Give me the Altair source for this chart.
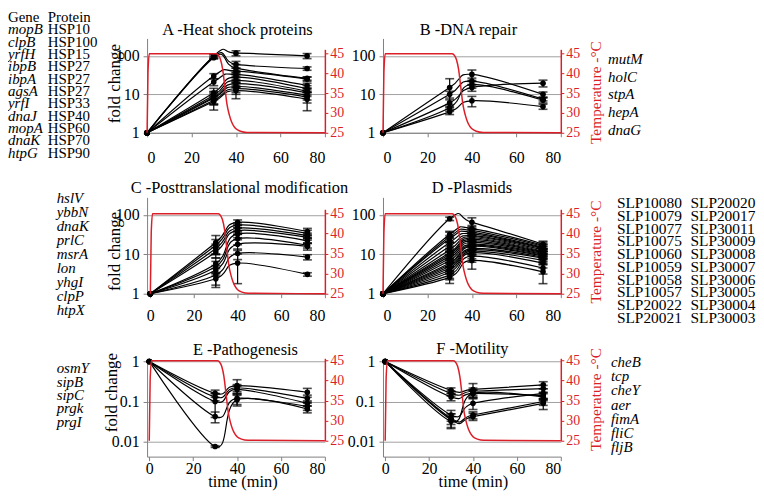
import altair as alt
import pandas as pd

# ---------------- data ----------------
times = [0, 30, 40, 72]
x_ticks = [0, 20, 40, 60, 80]
temp_ticks = [25, 30, 35, 40, 45]

temp_time = [0, 0.4, 1.0, 31, 32, 33, 34, 35, 36, 37, 38, 39, 40, 42, 45, 80]
temp_deg = [25, 40, 44.9, 44.9, 44.6, 43.5, 41, 36.5, 32, 29.5, 27.8, 26.7, 26, 25.4, 25.1, 25]

titles = ["A -Heat shock proteins", "B -DNA repair", "C -Posttranslational modification",
          "D -Plasmids", "E -Pathogenesis", "F -Motility"]

header_a = ["Gene", "Protein"]
genes_a = ["mopB", "clpB", "yrfH", "ibpB", "ibpA", "agsA", "yrfI", "dnaJ", "mopA", "dnaK", "htpG"]
proteins_a = ["HSP10", "HSP100", "HSP15", "HSP27", "HSP27", "HSP27", "HSP33", "HSP40", "HSP60", "HSP70", "HSP90"]
genes_b = ["mutM", "holC", "stpA", "hepA", "dnaG"]
genes_c = ["hslV", "ybbN", "dnaK", "prlC", "msrA", "lon", "yhgI", "clpP", "htpX"]
plasmids_d1 = ["SLP10080", "SLP10079", "SLP10077", "SLP10075", "SLP10060",
               "SLP10059", "SLP10058", "SLP10057", "SLP20022", "SLP20021"]
plasmids_d2 = ["SLP20020", "SLP20017", "SLP30011", "SLP30009", "SLP30008",
               "SLP30007", "SLP30006", "SLP30005", "SLP30004", "SLP30003"]
genes_e = ["osmY", "sipB", "sipC", "prgk", "prgI"]
genes_f = ["cheB", "tcp", "cheY", "aer", "fimA", "fliC", "fljB"]

# fold change per series at times 0, 30, 40, 72
a_vals = [[1, 100, 118, 100], [1, 97, 60, 47], [1, 90, 48, 26], [1, 30, 40, 25],
          [1, 21, 33, 17], [1, 11, 28, 14], [1, 9.5, 23, 12], [1, 8.5, 19, 11],
          [1, 8, 16, 9.5], [1, 7, 14, 8.5], [1, 6.5, 12.5, 7.5]]
a_errs = [[0, .12, .15, .15], [0, .1, .2, .1], [0, .08, .25, .1], [0, .15, .2, .12],
          [0, .2, .25, .15], [0, .3, .3, .2], [0, .25, .25, .2], [0, .35, .2, .2],
          [0, .3, .3, .25], [0, .25, .45, .3], [0, .4, .2, .5]]

b_vals = [[1, 15, 33, 10], [1, 10, 22, 7.5], [1, 6, 15, 19.5], [1, 4.5, 18, 7], [1, 3.5, 6.8, 4.8]]
b_errs = [[0, .7, .3, .15], [0, .2, .2, .1], [0, .2, .2, .2], [0, .2, .2, .15], [0, .15, .3, .15]]

c_vals = [[1, 20, 65, 38], [1, 17, 55, 34], [1, 14, 46, 30], [1, 11.5, 40, 27],
          [1, 5.8, 33, 22], [1, 4.9, 25, 17], [1, 4, 18, 16], [1, 3, 10.5, 8.5], [1, 2.4, 6, 3.1]]
c_errs = [[0, .5, .15, .2], [0, .4, .15, .2], [0, .3, .2, .15], [0, .3, .2, .15],
          [0, .4, .2, .15], [0, .35, .3, .15], [0, .3, .3, .2], [0, .45, .3, .15], [0, .4, .7, .1]]

d_vals = [[1, 80, 65, 18], [1, 32, 45, 17], [1, 28, 40, 16], [1, 25, 36, 15],
          [1, 20, 33, 14.5], [1, 16, 30, 14], [1, 13, 28, 13], [1, 11, 26, 12],
          [1, 10, 24, 11.5], [1, 9, 22, 11], [1, 8, 20, 10.5], [1, 7, 18, 10],
          [1, 6, 17, 9.5], [1, 5.5, 16, 9], [1, 5, 14, 8.5], [1, 4.5, 13, 8],
          [1, 4, 12, 7], [1, 3.5, 11, 6], [1, 3, 9, 4.5], [1, 2.6, 7, 3.6]]
d_errs = [[0, .1, .3, .2], [0, .2, .2, .2], [0, .3, .25, .15], [0, .2, .2, .2],
          [0, .35, .3, .2], [0, .3, .2, .15], [0, .25, .25, .2], [0, .3, .2, .15],
          [0, .2, .3, .2], [0, .3, .25, .2], [0, .25, .2, .15], [0, .3, .3, .2],
          [0, .2, .25, .2], [0, .3, .2, .15], [0, .25, .3, .2], [0, .3, .2, .2],
          [0, .2, .25, .2], [0, .3, .3, .25], [0, .25, .3, .3], [0, .3, .4, .5]]

e_vals = [[1, 0.16, 0.25, 0.17], [1, 0.13, 0.22, 0.12], [1, 0.10, 0.2, 0.09],
          [1, 0.042, 0.12, 0.075], [1, 0.0075, 0.11, 0.065]]
e_errs = [[0, .2, .4, .25], [0, .2, .2, .2], [0, .6, .2, .15], [0, .3, .3, .2], [0, .05, .3, .2]]

f_vals = [[1, 0.19, 0.2, 0.26], [1, 0.16, 0.18, 0.21], [1, 0.13, 0.16, 0.14],
          [1, 0.046, 0.09, 0.16], [1, 0.038, 0.046, 0.1], [1, 0.035, 0.042, 0.09],
          [1, 0.032, 0.16, 0.13]]
f_errs = [[0, .15, .4, .2], [0, .15, .2, .2], [0, .2, .2, .2], [0, .3, .3, .3],
          [0, .3, .2, .2], [0, .4, .2, .3], [0, .3, .2, .2]]

# ---------------- style ----------------
RED = "#dc1e28"
GRID = "#a0a0a0"
AXG = "#808080"
FONT = "Liberation Serif"
W = 179


def series_df(vals, errs):
    rows = []
    for s, (vs, es) in enumerate(zip(vals, errs)):
        for t, v, e in zip(times, vs, es):
            rows.append(dict(s=s, t=t, v=v, e=e, lo=v * (1 - e), hi=v * (1 + e)))
    return pd.DataFrame(rows)


def text_layer(names, x0, y0, dy, italic, size=15):
    df = pd.DataFrame({"name": names,
                       "px": [x0] * len(names),
                       "py": [y0 + dy * i for i in range(len(names))]})
    return alt.Chart(df).mark_text(
        align="left", baseline="middle", font=FONT, fontSize=size,
        fontStyle="italic" if italic else "normal", color="black"
    ).encode(x=alt.X("px:Q", scale=None), y=alt.Y("py:Q", scale=None), text="name:N")


def panel(vals, errs, title, cfg, lists):
    df = series_df(vals, errs)
    H = cfg["h"]
    xsc = alt.Scale(domain=cfg["xdom"], nice=False, zero=False)
    xkw = dict(values=x_ticks, grid=False, domainColor=AXG, tickColor=AXG, tickSize=4,
               labelPadding=cfg["lp"], labelFontSize=16, labelFont=FONT, labelColor="black")
    if cfg.get("xtitle"):
        xkw.update(title="time (min)", titleX=cfg["xtx"], titleY=30, titleAlign="center",
                   titleBaseline="alphabetic", titleFontSize=16.5, titleFont=FONT,
                   titleFontWeight="normal", titleColor="black")
    else:
        xkw.update(title=None)
    xax = alt.Axis(**xkw)

    ysc = alt.Scale(type="log", domain=cfg["ydom"], nice=False)
    ykw = dict(orient="left", values=cfg["yticks"], format="~g", grid=True, gridColor=GRID,
               domainColor=AXG, tickColor=AXG, tickSize=4, labelPadding=4, labelFontSize=16,
               labelFont=FONT, labelColor="black")
    if cfg.get("ytitle"):
        ykw.update(title="fold change", titleX=cfg["ytx"], titleY=cfg["yty"], titleAngle=270,
                   titleAlign="center", titleBaseline="middle", titleFontSize=17,
                   titleFont=FONT, titleFontWeight="normal", titleColor="black")
    else:
        ykw.update(title=None)
    yax = alt.Axis(**ykw)

    x = alt.X("t:Q", scale=xsc, axis=xax)
    base = alt.Chart(df)
    lines = base.mark_line(interpolate="cardinal", color="black", strokeWidth=1.2).encode(
        x=x, y=alt.Y("v:Q", scale=ysc, axis=yax), detail="s:N")
    errs_l = base.transform_filter("datum.e > 0")
    rules = errs_l.mark_rule(color="black", strokeWidth=1.2).encode(
        x=x, y=alt.Y("lo:Q", scale=ysc, axis=yax), y2="hi:Q")
    caps_lo = errs_l.mark_tick(orient="horizontal", size=9, thickness=1.6, color="black").encode(
        x=x, y=alt.Y("lo:Q", scale=ysc, axis=yax))
    caps_hi = errs_l.mark_tick(orient="horizontal", size=9, thickness=1.6, color="black").encode(
        x=x, y=alt.Y("hi:Q", scale=ysc, axis=yax))
    pts = base.mark_circle(size=32, color="black", opacity=1).encode(
        x=x, y=alt.Y("v:Q", scale=ysc, axis=yax))
    inner = alt.layer(lines, rules, caps_lo, caps_hi, pts)

    tkw = dict(orient="right", values=temp_ticks, grid=False, domainColor=RED, domainWidth=1.5,
               tickColor=RED, tickSize=3, labelPadding=2, labelFontSize=14, labelFont=FONT,
               labelColor=RED)
    if cfg.get("ttitle"):
        tkw.update(title="Temperature -°C", titleX=35, titleY=cfg["tty"], titleAngle=270,
                   titleAlign="center", titleBaseline="middle", titleFontSize=15.5,
                   titleFont=FONT, titleFontWeight="normal", titleColor=RED)
    else:
        tkw.update(title=None)
    temp_df = pd.DataFrame({"t": temp_time, "c": temp_deg})
    temp = alt.Chart(temp_df).mark_line(color=RED, strokeWidth=1.5, interpolate="monotone").encode(
        x=alt.X("t:Q", scale=xsc, axis=None),
        y=alt.Y("c:Q", scale=alt.Scale(domain=cfg["tdom"], range=cfg["trange"], nice=False, zero=False),
                axis=alt.Axis(**tkw)))

    ttl = alt.Chart(pd.DataFrame({"title": [title]})).mark_text(
        font=FONT, fontSize=16.5, align="center", baseline="alphabetic", color="black"
    ).encode(x=alt.value(cfg["ttx"]), y=alt.value(cfg["tty_title"]), text="title:N")

    return alt.layer(inner, temp, ttl, *lists).resolve_scale(
        x="independent", y="independent").properties(width=W, height=H)


common_top = dict(h=95, ydom=[1, 285], yticks=[1, 10, 100], tdom=[25, 46], trange=[95, 11], lp=13)
common_mid = dict(h=97, ydom=[1, 280], yticks=[1, 10, 100], tdom=[25, 46], trange=[97, 12], lp=10)
common_bot = dict(h=99, ydom=[0.0042, 1.2], yticks=[0.01, 0.1, 1], tdom=[25, 45.5], trange=[83, 0], lp=0)

pA = panel(a_vals, a_errs, titles[0],
           dict(common_top, xdom=[0, 80], ytitle=True, ytx=-33, yty=45, ttx=91, tty_title=-3),
           [text_layer(header_a[:1], -140, -21.5, 0, False),
            text_layer(header_a[1:], -100, -21.5, 0, False),
            text_layer(genes_a, -140, -9, 12.4, True),
            text_layer(proteins_a, -100, -9, 12.4, False)])
pB = panel(b_vals, b_errs, titles[1],
           dict(common_top, xdom=[0, 80], ttitle=True, tty=54, ttx=86, tty_title=-3),
           [text_layer(genes_b, 226.5, 21, 17.7, True)])
pC = panel(c_vals, c_errs, titles[2],
           dict(common_mid, xdom=[-1.5, 80], ytitle=True, ytx=-33, yty=54, ttx=93, tty_title=-4),
           [text_layer(genes_c, -91, 1, 14.1, True)])
pD = panel(d_vals, d_errs, titles[3],
           dict(common_mid, xdom=[0, 80], ttitle=True, tty=54.5, ttx=89.5, tty_title=-4),
           [text_layer(plasmids_d1, 235.5, 6, 12.8, False, 15.5),
            text_layer(plasmids_d2, 309.5, 6, 12.8, False, 15.5)])
pE = panel(e_vals, e_errs, titles[4],
           dict(common_bot, xdom=[-1, 80], ytitle=True, ytx=-36, yty=34, ttx=99, tty_title=-3,
                xtitle=True, xtx=96),
           [text_layer(genes_e, -91, 10, 13.5, True)])
pF = panel(f_vals, f_errs, titles[5],
           dict(common_bot, xdom=[-1, 80], ttitle=True, tty=41, ttx=90, tty_title=-4,
                xtitle=True, xtx=90.5),
           [text_layer(genes_f, 229.5, 4, 14.2, True)])

chart = alt.concat(pA, pB, pC, pD, pE, pF, columns=2,
                   spacing={"row": 65, "column": 58.5}, bounds="flush").properties(
    padding={"left": 0, "top": 0, "right": 0, "bottom": 0}
).configure_view(stroke=None)

chart.save("out.html", embed_options={"renderer": "svg", "actions": False})
